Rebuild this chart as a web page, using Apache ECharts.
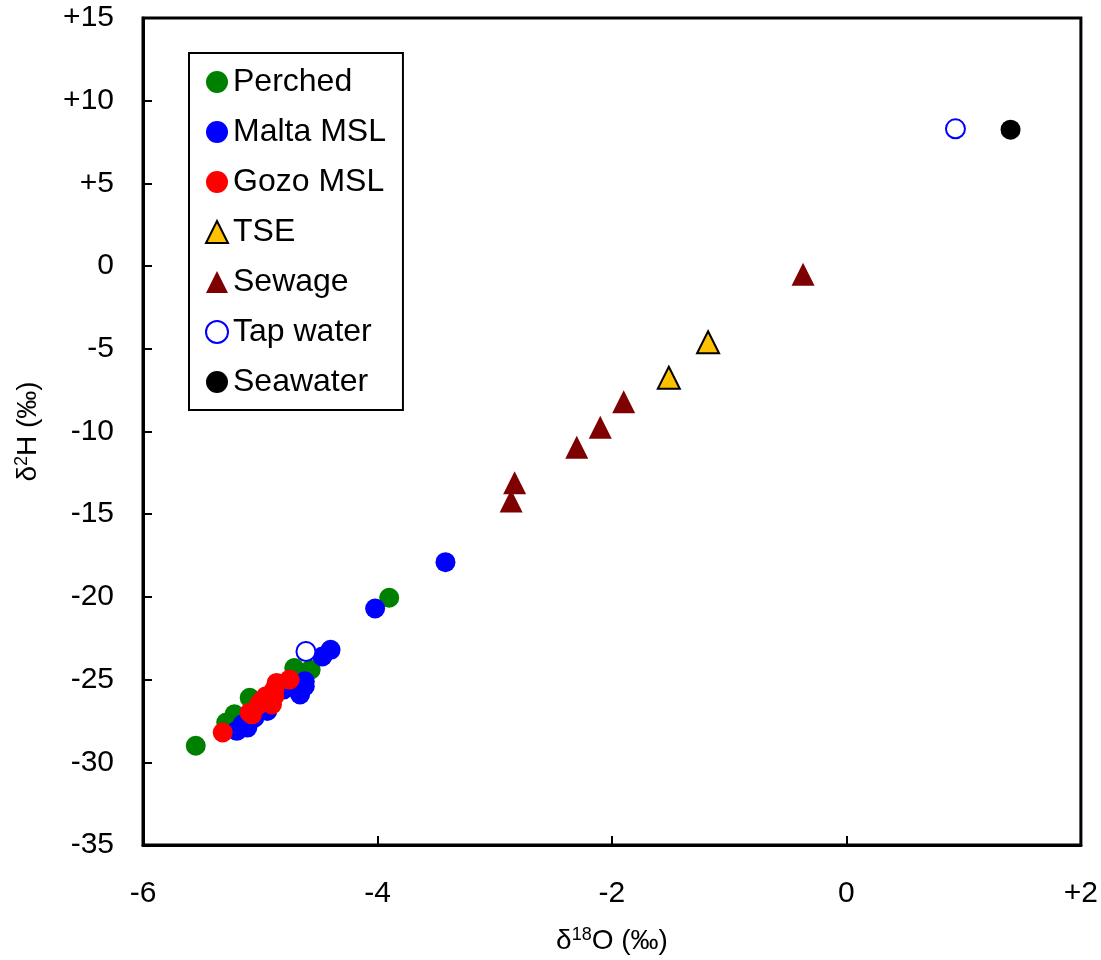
<!DOCTYPE html>
<html><head><meta charset="utf-8">
<script src="https://cdn.jsdelivr.net/npm/echarts@6/dist/echarts.min.js"></script>
<style>html,body{margin:0;padding:0;background:#fff}#c{width:1101px;height:960px}</style>
</head><body><div id="c"></div>
<script>
const perched = [[-5.55,-29.0],[-3.90,-20.05],[-5.29,-27.6],[-5.22,-27.1],[-5.09,-26.1],[-4.71,-24.3],[-4.57,-24.4],[-4.66,-24.8]];
const maltaMSL = [[-3.42,-17.9],[-4.02,-20.7],[-4.40,-23.2],[-4.47,-23.6],[-4.62,-25.1],[-4.66,-25.9],[-4.62,-25.4],[-4.94,-26.9],[-5.15,-27.7],[-5.11,-27.9],[-5.20,-28.1],[-4.98,-26.5],[-4.80,-25.6],[-5.05,-27.3]];
const gozoMSL = [[-5.32,-28.2],[-5.09,-27.0],[-5.07,-27.1],[-5.01,-26.5],[-4.99,-26.3],[-4.90,-26.5],[-4.88,-26.0],[-4.86,-25.2],[-4.75,-25.0],[-4.88,-25.6],[-4.95,-26.0]];
const tse = [[-1.18,-4.6],[-1.515,-6.75]];
const sewage = [[-0.37,-0.5],[-1.90,-8.2],[-2.10,-9.75],[-2.30,-10.95],[-2.83,-13.1],[-2.86,-14.2]];
const tapWater = [[0.93,8.3],[-4.61,-23.3]];
const seawater = [[1.40,8.25]];

const fnt = '"Liberation Sans", Arial, sans-serif';
const signed = v => v > 0 ? '+' + v : String(v);
const rich = {a: {fontSize: 28, fontFamily: fnt, color: '#000'}, s: {fontSize: 18, fontFamily: fnt, color: '#000', verticalAlign: 'top', padding: [0,0,12,0]}};
const chart = echarts.init(document.getElementById('c'));
chart.setOption({
  animation: false,
  backgroundColor: '#fff',
  textStyle: {fontFamily: fnt, color: '#000'},
  grid: {left: 143, top: 18, right: 20, bottom: 113, show: true, borderColor: '#000', borderWidth: 3, backgroundColor: 'transparent'},
  legend: {
    orient: 'vertical', left: 189, top: 53,
    borderColor: '#000', borderWidth: 2, padding: [13, 17, 12, 16],
    itemWidth: 22, itemHeight: 22, itemGap: 18,
    textStyle: {fontSize: 32, fontFamily: fnt, color: '#000', lineHeight: 32},
    data: ['Perched','Malta MSL','Gozo MSL','TSE','Sewage','Tap water','Seawater']
  },
  xAxis: {
    type: 'value', min: -6, max: 2, interval: 2,
    name: '{a|δ}{s|18}{a|O (‰)}', nameLocation: 'middle', nameGap: 81,
    nameTextStyle: {rich: rich},
    axisLine: {show: true, onZero: false, lineStyle: {color: '#000', width: 3}},
    axisTick: {show: true, inside: true, length: 9, lineStyle: {color: '#000', width: 2}},
    axisLabel: {fontSize: 30, color: '#000', margin: 34, formatter: signed},
    splitLine: {show: false}
  },
  yAxis: {
    type: 'value', min: -35, max: 15, interval: 5,
    name: '{a|δ}{s|2}{a|H (‰)}', nameLocation: 'middle', nameGap: 100,
    nameTextStyle: {rich: rich},
    axisLine: {show: true, onZero: false, lineStyle: {color: '#000', width: 3}},
    axisTick: {show: true, inside: true, length: 9, lineStyle: {color: '#000', width: 2}},
    axisLabel: {fontSize: 30, color: '#000', margin: 29, formatter: signed},
    splitLine: {show: false}
  },
  series: [
    {name: 'Perched', type: 'scatter', data: perched, symbol: 'circle', symbolSize: 20, itemStyle: {color: '#008000', opacity: 1}},
    {name: 'Malta MSL', type: 'scatter', data: maltaMSL, symbol: 'circle', symbolSize: 20, itemStyle: {color: '#0000ff', opacity: 1}},
    {name: 'Gozo MSL', type: 'scatter', data: gozoMSL, symbol: 'circle', symbolSize: 20, itemStyle: {color: '#ff0000', opacity: 1}},
    {name: 'TSE', type: 'scatter', data: tse, symbol: 'triangle', symbolSize: 22, itemStyle: {color: '#ffc000', borderColor: '#000', borderWidth: 2, opacity: 1}},
    {name: 'Sewage', type: 'scatter', data: sewage, symbol: 'triangle', symbolSize: 23, itemStyle: {color: '#7f0000', opacity: 1}},
    {name: 'Tap water', type: 'scatter', data: tapWater, symbol: 'circle', symbolSize: 19, itemStyle: {color: '#fff', borderColor: '#0000ff', borderWidth: 2, opacity: 1}},
    {name: 'Seawater', type: 'scatter', data: seawater, symbol: 'circle', symbolSize: 20, itemStyle: {color: '#000', opacity: 1}}
  ]
});
</script></body></html>
